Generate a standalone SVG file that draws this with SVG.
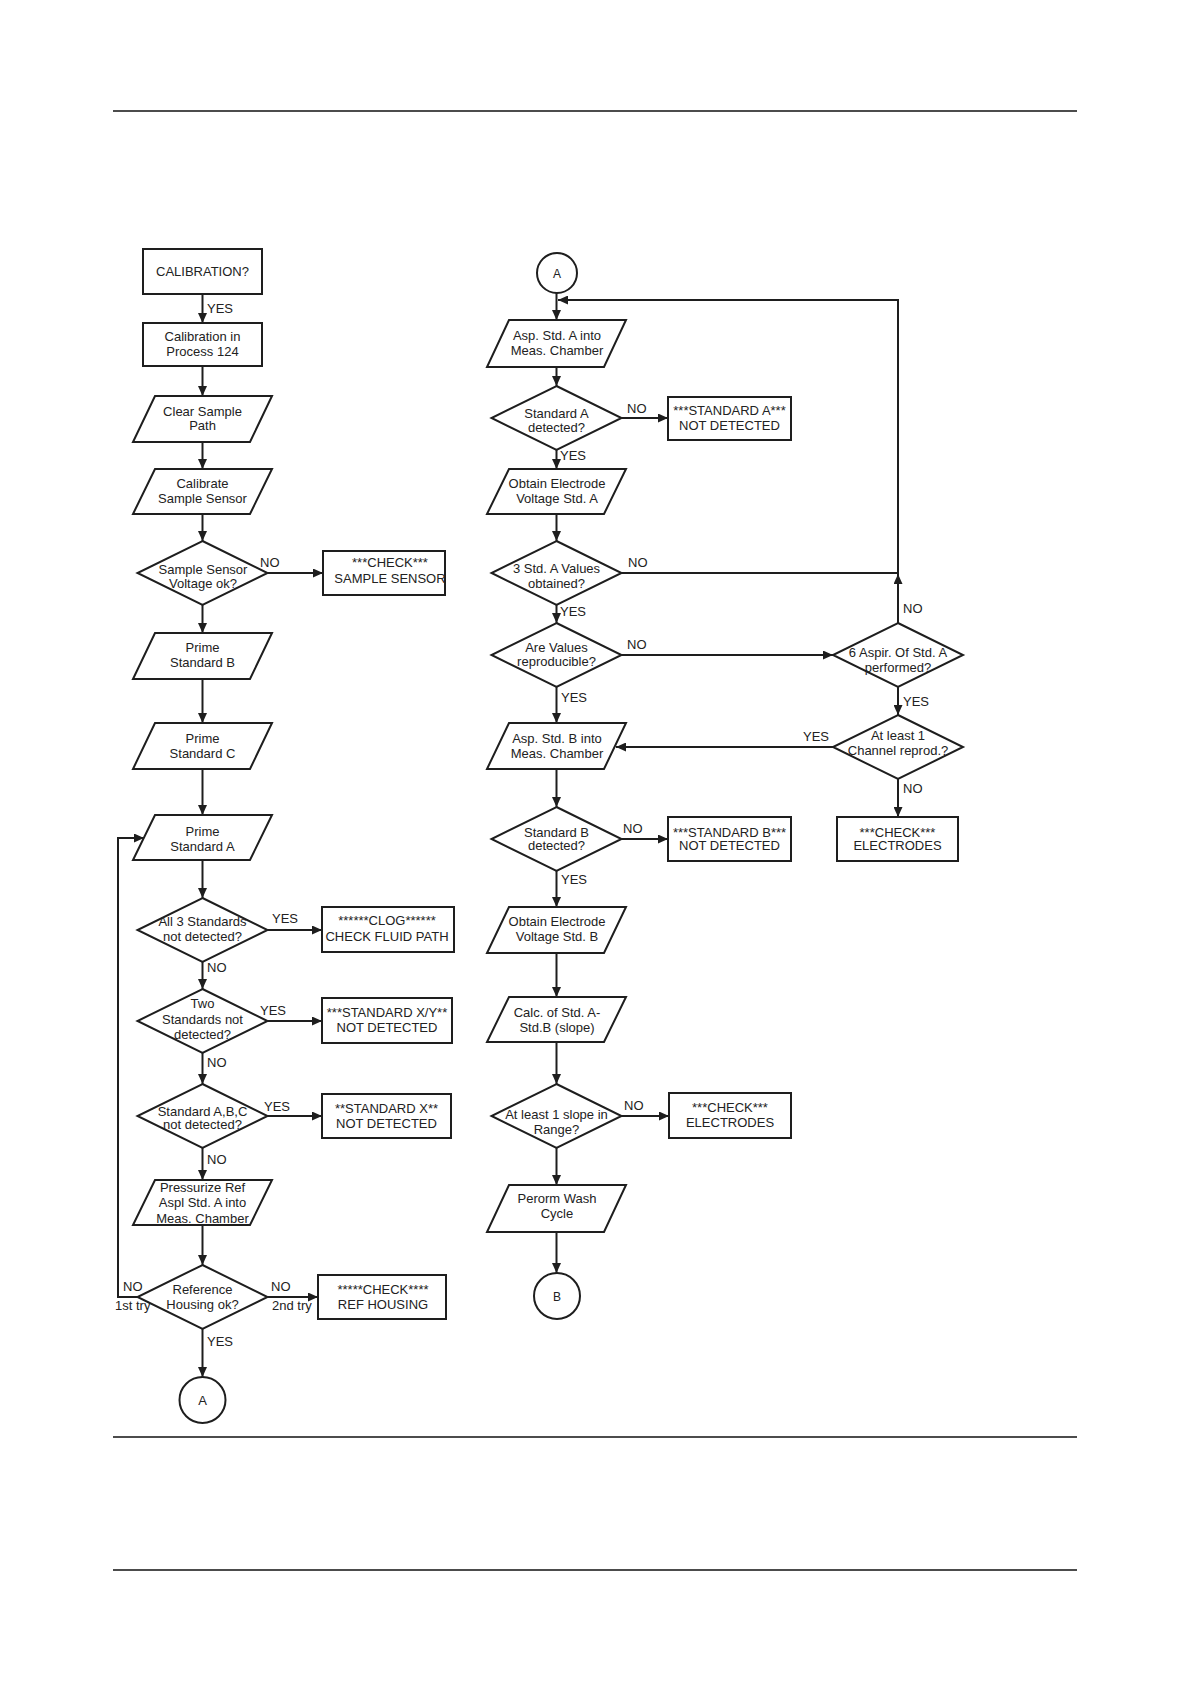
<svg xmlns="http://www.w3.org/2000/svg" width="1190" height="1684" viewBox="0 0 1190 1684">
<defs>
<style>
.s{fill:#fff;stroke:#1e1e1e;stroke-width:2}
.c{fill:none;stroke:#1e1e1e;stroke-width:2}
.rule{stroke:#111;stroke-width:1.5}
text{font-family:"Liberation Sans",Arial,sans-serif;font-size:13px;fill:#222}
.m{text-anchor:middle}
.sm{font-size:12px}
</style>
<marker id="ar" markerUnits="userSpaceOnUse" markerWidth="10" markerHeight="9" refX="10" refY="4.5" orient="auto"><path d="M0,0 L10,4.5 L0,9 z" fill="#1e1e1e"/></marker>
</defs>
<rect width="1190" height="1684" fill="#fff"/>
<g id="page-rules">
<line class="rule" x1="113" y1="111" x2="1077" y2="111"/>
<line class="rule" x1="113" y1="1437" x2="1077" y2="1437"/>
<line class="rule" x1="113" y1="1570" x2="1077" y2="1570"/>
</g>
<g id="connectors">
<path class="c" marker-end="url(#ar)" d="M202.5,294 V323"/>
<path class="c" marker-end="url(#ar)" d="M202.5,366 V396"/>
<path class="c" marker-end="url(#ar)" d="M202.5,442 V469"/>
<path class="c" marker-end="url(#ar)" d="M202.5,514 V541"/>
<path class="c" marker-end="url(#ar)" d="M267.5,573 H323"/>
<path class="c" marker-end="url(#ar)" d="M202.5,605 V633"/>
<path class="c" marker-end="url(#ar)" d="M202.5,679 V723"/>
<path class="c" marker-end="url(#ar)" d="M202.5,769 V815"/>
<path class="c" marker-end="url(#ar)" d="M202.5,860 V898"/>
<path class="c" marker-end="url(#ar)" d="M267.5,930 H322"/>
<path class="c" marker-end="url(#ar)" d="M202.5,962 V989"/>
<path class="c" marker-end="url(#ar)" d="M267.5,1021 H322"/>
<path class="c" marker-end="url(#ar)" d="M202.5,1053 V1084"/>
<path class="c" marker-end="url(#ar)" d="M267.5,1116 H322"/>
<path class="c" marker-end="url(#ar)" d="M202.5,1148 V1180"/>
<path class="c" marker-end="url(#ar)" d="M202.5,1225 V1265"/>
<path class="c" marker-end="url(#ar)" d="M267.5,1297 H318"/>
<path class="c" marker-end="url(#ar)" d="M137.5,1297 H118 V838 H144"/>
<path class="c" marker-end="url(#ar)" d="M202.5,1329 V1377"/>
<path class="c" marker-end="url(#ar)" d="M556.5,293 V320"/>
<path class="c" marker-end="url(#ar)" d="M621.5,573 H898 V300 H558"/>
<path class="c" marker-end="url(#ar)" d="M898,623 V574"/>
<path class="c" marker-end="url(#ar)" d="M556.5,367 V386"/>
<path class="c" marker-end="url(#ar)" d="M621.5,418 H668"/>
<path class="c" marker-end="url(#ar)" d="M556.5,450 V469"/>
<path class="c" marker-end="url(#ar)" d="M556.5,514 V541"/>
<path class="c" marker-end="url(#ar)" d="M556.5,605 V623"/>
<path class="c" marker-end="url(#ar)" d="M621.5,655 H833"/>
<path class="c" marker-end="url(#ar)" d="M556.5,687 V723"/>
<path class="c" marker-end="url(#ar)" d="M898,687 V715"/>
<path class="c" marker-end="url(#ar)" d="M833,747 H616"/>
<path class="c" marker-end="url(#ar)" d="M898,779 V817"/>
<path class="c" marker-end="url(#ar)" d="M556.5,769 V807"/>
<path class="c" marker-end="url(#ar)" d="M621.5,839 H668"/>
<path class="c" marker-end="url(#ar)" d="M556.5,871 V907"/>
<path class="c" marker-end="url(#ar)" d="M556.5,953 V997"/>
<path class="c" marker-end="url(#ar)" d="M556.5,1042 V1084"/>
<path class="c" marker-end="url(#ar)" d="M621.5,1116 H669"/>
<path class="c" marker-end="url(#ar)" d="M556.5,1148 V1185"/>
<path class="c" marker-end="url(#ar)" d="M556.5,1232 V1273"/>
</g>
<g id="edge-labels">
<text x="207" y="313">YES</text>
<text x="260" y="567">NO</text>
<text x="272" y="923">YES</text>
<text x="207" y="972">NO</text>
<text x="260" y="1015">YES</text>
<text x="207" y="1067">NO</text>
<text x="264" y="1111">YES</text>
<text x="207" y="1164">NO</text>
<text x="123" y="1291">NO</text>
<text x="115" y="1310">1st try</text>
<text x="271" y="1291">NO</text>
<text x="272" y="1310">2nd try</text>
<text x="207" y="1346">YES</text>
<text x="627" y="413">NO</text>
<text x="560" y="460">YES</text>
<text x="628" y="567">NO</text>
<text x="560" y="616">YES</text>
<text x="627" y="649">NO</text>
<text x="561" y="702">YES</text>
<text x="803" y="741">YES</text>
<text x="623" y="833">NO</text>
<text x="561" y="884">YES</text>
<text x="624" y="1110">NO</text>
<text x="903" y="613">NO</text>
<text x="903" y="706">YES</text>
<text x="903" y="793">NO</text>
</g>
<g id="n-calibration"><rect class="s" x="143" y="249" width="119" height="45"/><text class="m" x="202.5" y="276">CALIBRATION?</text></g>
<g id="n-calib-process"><rect class="s" x="143" y="323" width="119" height="43"/><text class="m" x="202.5" y="340.5">Calibration in</text><text class="m" x="202.5" y="355.5">Process 124</text></g>
<g id="n-clear-sample"><polygon class="s" points="155,396 272,396 250,442 133,442"/><text class="m" x="202.5" y="415.5">Clear Sample</text><text class="m" x="202.5" y="430">Path</text></g>
<g id="n-calibrate-sensor"><polygon class="s" points="155,469 272,469 250,514 133,514"/><text class="m" x="202.5" y="488">Calibrate</text><text class="m" x="202.5" y="502.5">Sample Sensor</text></g>
<g id="n-sensor-ok"><polygon class="s" points="202.5,541 267.5,573 202.5,605 137.5,573"/><text class="m" x="203" y="573.5">Sample Sensor</text><text class="m" x="203" y="588">Voltage ok?</text></g>
<g id="n-check-sensor"><rect class="s" x="323" y="551" width="122" height="44"/><text class="m" x="390" y="567">***CHECK***</text><text class="m" x="390" y="583">SAMPLE SENSOR</text></g>
<g id="n-prime-b"><polygon class="s" points="155,633 272,633 250,679 133,679"/><text class="m" x="202.5" y="651.5">Prime</text><text class="m" x="202.5" y="666.5">Standard B</text></g>
<g id="n-prime-c"><polygon class="s" points="155,723 272,723 250,769 133,769"/><text class="m" x="202.5" y="742.5">Prime</text><text class="m" x="202.5" y="757.5">Standard C</text></g>
<g id="n-prime-a"><polygon class="s" points="155,815 272,815 250,860 133,860"/><text class="m" x="202.5" y="836">Prime</text><text class="m" x="202.5" y="850.5">Standard A</text></g>
<g id="n-all3"><polygon class="s" points="202.5,898 267.5,930 202.5,962 137.5,930"/><text class="m" x="202.5" y="926">All 3 Standards</text><text class="m" x="202.5" y="940.5">not detected?</text></g>
<g id="n-clog"><rect class="s" x="322" y="907" width="132" height="45"/><text class="m" x="387" y="925">******CLOG******</text><text class="m" x="387" y="940.5">CHECK FLUID PATH</text></g>
<g id="n-two"><polygon class="s" points="202.5,989 267.5,1021 202.5,1053 137.5,1021"/><text class="m" x="202.5" y="1008">Two</text><text class="m" x="202.5" y="1024">Standards not</text><text class="m" x="202.5" y="1039">detected?</text></g>
<g id="n-std-xy"><rect class="s" x="322" y="998" width="130" height="45"/><text class="m" x="387" y="1016.5">***STANDARD X/Y**</text><text class="m" x="387" y="1031.5">NOT DETECTED</text></g>
<g id="n-abc"><polygon class="s" points="202.5,1084 267.5,1116 202.5,1148 137.5,1116"/><text class="m" x="202.5" y="1115.5">Standard A,B,C</text><text class="m" x="202.5" y="1128.5">not detected?</text></g>
<g id="n-std-x"><rect class="s" x="322" y="1094" width="129" height="44"/><text class="m" x="386.5" y="1112.5">**STANDARD X**</text><text class="m" x="386.5" y="1127.5">NOT DETECTED</text></g>
<g id="n-pressurize"><polygon class="s" points="155,1180 272,1180 250,1225 133,1225"/><text class="m" x="202.5" y="1192">Pressurize Ref</text><text class="m" x="202.5" y="1207">Aspl Std. A into</text><text class="m" x="202.5" y="1222.5">Meas. Chamber</text></g>
<g id="n-ref-housing"><polygon class="s" points="202.5,1265 267.5,1297 202.5,1329 137.5,1297"/><text class="m" x="202.5" y="1293.5">Reference</text><text class="m" x="202.5" y="1308.5">Housing ok?</text></g>
<g id="n-check-ref"><rect class="s" x="318" y="1275" width="128" height="44"/><text class="m" x="383" y="1293.5">*****CHECK****</text><text class="m" x="383" y="1308.5">REF HOUSING</text></g>
<g id="n-conn-a-out"><circle class="s" cx="202.5" cy="1400" r="23"/><text class="m" x="202.5" y="1405">A</text></g>
<g id="n-conn-a-in"><circle class="s" cx="557" cy="273" r="20"/><text class="m sm" x="557" y="277.5">A</text></g>
<g id="n-asp-a"><polygon class="s" points="509,320 626,320 604,367 487,367"/><text class="m" x="557" y="340">Asp. Std. A into</text><text class="m" x="557" y="355">Meas. Chamber</text></g>
<g id="n-std-a-det"><polygon class="s" points="556.5,386 621.5,418 556.5,450 491.5,418"/><text class="m" x="556.5" y="417.5">Standard A</text><text class="m" x="556.5" y="431.5">detected?</text></g>
<g id="n-std-a-nd"><rect class="s" x="668" y="397" width="123" height="43"/><text class="m" x="729.5" y="415">***STANDARD A***</text><text class="m" x="729.5" y="430">NOT DETECTED</text></g>
<g id="n-obtain-a"><polygon class="s" points="509,469 626,469 604,514 487,514"/><text class="m" x="557" y="487.5">Obtain Electrode</text><text class="m" x="557" y="502.5">Voltage Std. A</text></g>
<g id="n-3std"><polygon class="s" points="556.5,541 621.5,573 556.5,605 491.5,573"/><text class="m" x="556.5" y="572.5">3 Std. A Values</text><text class="m" x="556.5" y="587.5">obtained?</text></g>
<g id="n-reprod"><polygon class="s" points="556.5,623 621.5,655 556.5,687 491.5,655"/><text class="m" x="556.5" y="651.5">Are Values</text><text class="m" x="556.5" y="666">reproducible?</text></g>
<g id="n-6aspir"><polygon class="s" points="898,623 963,655 898,687 833,655"/><text class="m" x="898" y="656.5">6 Aspir. Of Std. A</text><text class="m" x="898" y="671.5">performed?</text></g>
<g id="n-atleast-channel"><polygon class="s" points="898,715 963,747 898,779 833,747"/><text class="m" x="898" y="739.5">At least 1</text><text class="m" x="898" y="755">Channel reprod.?</text></g>
<g id="n-check-electrodes-1"><rect class="s" x="837" y="817" width="121" height="44"/><text class="m" x="897.5" y="836.5">***CHECK***</text><text class="m" x="897.5" y="850">ELECTRODES</text></g>
<g id="n-asp-b"><polygon class="s" points="509,723 626,723 604,769 487,769"/><text class="m" x="557" y="742.5">Asp. Std. B into</text><text class="m" x="557" y="757.5">Meas. Chamber</text></g>
<g id="n-std-b-det"><polygon class="s" points="556.5,807 621.5,839 556.5,871 491.5,839"/><text class="m" x="556.5" y="836.5">Standard B</text><text class="m" x="556.5" y="850">detected?</text></g>
<g id="n-std-b-nd"><rect class="s" x="668" y="817" width="123" height="44"/><text class="m" x="729.5" y="836.5">***STANDARD B***</text><text class="m" x="729.5" y="850">NOT DETECTED</text></g>
<g id="n-obtain-b"><polygon class="s" points="509,907 626,907 604,953 487,953"/><text class="m" x="557" y="926">Obtain Electrode</text><text class="m" x="557" y="941">Voltage Std. B</text></g>
<g id="n-calc"><polygon class="s" points="509,997 626,997 604,1042 487,1042"/><text class="m" x="557" y="1016.5">Calc. of Std. A-</text><text class="m" x="557" y="1031.5">Std.B (slope)</text></g>
<g id="n-slope"><polygon class="s" points="556.5,1084 621.5,1116 556.5,1148 491.5,1116"/><text class="m" x="556.5" y="1119">At least 1 slope in</text><text class="m" x="556.5" y="1134">Range?</text></g>
<g id="n-check-electrodes-2"><rect class="s" x="669" y="1093" width="122" height="45"/><text class="m" x="730" y="1112">***CHECK***</text><text class="m" x="730" y="1127">ELECTRODES</text></g>
<g id="n-wash"><polygon class="s" points="509,1185 626,1185 604,1232 487,1232"/><text class="m" x="557" y="1203">Perorm Wash</text><text class="m" x="557" y="1218">Cycle</text></g>
<g id="n-conn-b"><circle class="s" cx="557" cy="1296" r="23"/><text class="m sm" x="557" y="1300.5">B</text></g>
</svg>
